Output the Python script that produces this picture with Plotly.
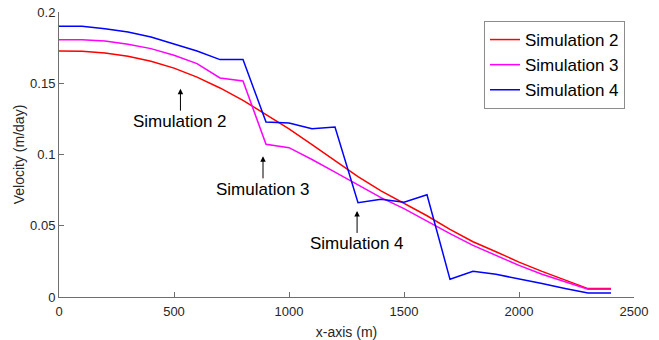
import plotly.graph_objects as go

# Distance along the x-axis (m)
x_m = [0, 100, 200, 300, 400, 500, 600, 700, 800, 900, 1000, 1100, 1200,
       1300, 1400, 1500, 1600, 1700, 1800, 1900, 2000, 2100, 2200, 2300, 2400]

# Velocity profiles (m/day)
sim2 = [0.1726, 0.1724, 0.1713, 0.1690, 0.1655, 0.1606, 0.1543, 0.1467, 0.1380,
        0.1283, 0.1180, 0.1070, 0.0955, 0.0845, 0.0745, 0.0660, 0.0570, 0.0475,
        0.0388, 0.0318, 0.0245, 0.0180, 0.0118, 0.0059, 0.0059]
sim3 = [0.1806, 0.1806, 0.1797, 0.1773, 0.1743, 0.1696, 0.1638, 0.1537, 0.1516,
        0.1072, 0.1048, 0.0965, 0.0876, 0.0786, 0.0697, 0.0620, 0.0530, 0.0445,
        0.0362, 0.0290, 0.0222, 0.0160, 0.0105, 0.0055, 0.0055]
sim4 = [0.1900, 0.1900, 0.1883, 0.1860, 0.1825, 0.1778, 0.1726, 0.1666, 0.1666,
        0.1228, 0.1221, 0.1180, 0.1193, 0.0662, 0.0686, 0.0665, 0.0718, 0.0124,
        0.0180, 0.0159, 0.0128, 0.0095, 0.0060, 0.0028, 0.0028]

series_names = ["Simulation 2", "Simulation 3", "Simulation 4"]
series_colors = ["#ff0000", "#ff00ff", "#0000ff"]

# Labelled arrows: (x, y of arrow tip, text)
label_x = [528, 887, 1296]
label_y = [0.1462, 0.0987, 0.0604]

x_ticks = [0, 500, 1000, 1500, 2000, 2500]
y_ticks = [0, 0.05, 0.1, 0.15, 0.2]
y_tick_text = ["0", "0.05", "0.1", "0.15", "0.2"]

FONT = "Liberation Sans, Arial, Helvetica, sans-serif"
AXIS_GREY = "#6e6e6e"
TEXT_GREY = "#262626"

fig = go.Figure()
for name, ys, col in zip(series_names, [sim2, sim3, sim4], series_colors):
    fig.add_trace(go.Scatter(x=x_m, y=ys, mode="lines", name=name,
                             line=dict(color=col, width=1.5)))

for xa, ya, txt in zip(label_x, label_y, series_names):
    fig.add_annotation(x=xa, y=ya, text=txt, showarrow=True, ax=0, ay=33,
                       arrowhead=2, arrowsize=1.1, arrowwidth=1,
                       arrowcolor="#000000",
                       font=dict(family=FONT, size=17, color="#000000"))

fig.update_layout(
    width=659, height=340,
    margin=dict(l=59, r=25, t=12, b=43),
    plot_bgcolor="white", paper_bgcolor="white",
    font=dict(family=FONT, color=TEXT_GREY),
    showlegend=True,
    legend=dict(x=1.0 - 9 / 575, y=1.0 - 9 / 285, xanchor="right", yanchor="top",
                bgcolor="white", bordercolor="#8c8c8c", borderwidth=1,
                font=dict(family=FONT, size=17, color="#000000"),
                tracegroupgap=0, itemwidth=30),
    xaxis=dict(range=[0, 2500], tickvals=x_ticks, ticks="inside", ticklen=5,
               tickcolor=AXIS_GREY, showline=True, linecolor=AXIS_GREY,
               linewidth=1, showgrid=False, zeroline=False, automargin=False,
               ticklabelstandoff=2,
               tickfont=dict(size=13, color=TEXT_GREY),
               title=dict(text="x-axis (m)", font=dict(size=14, color=TEXT_GREY),
                          standoff=10)),
    yaxis=dict(range=[0, 0.2], tickvals=y_ticks, ticktext=y_tick_text,
               ticks="inside", ticklen=5, tickcolor=AXIS_GREY, showline=True,
               linecolor=AXIS_GREY, linewidth=1, showgrid=False, zeroline=False,
               automargin=False,
               tickfont=dict(size=13, color=TEXT_GREY),
               title=dict(text="Velocity (m/day)", font=dict(size=14, color=TEXT_GREY),
                          standoff=2)),
)

fig.write_html("out.html")
